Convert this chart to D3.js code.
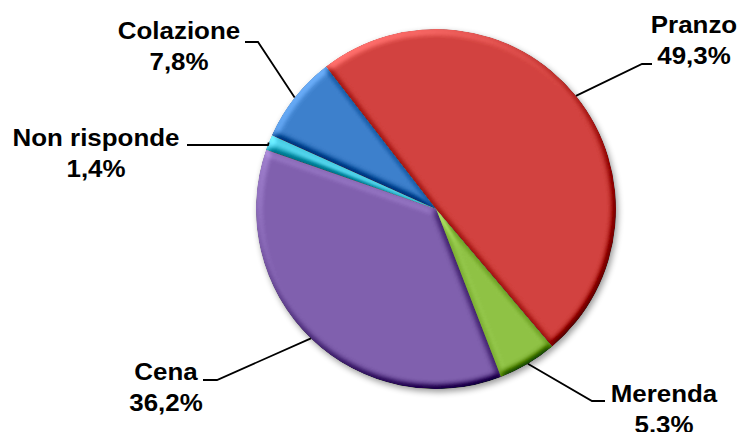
<!DOCTYPE html>
<html>
<head>
<meta charset="utf-8">
<script src="https://cdn.jsdelivr.net/npm/d3@7"></script>
<style>
  html, body { margin: 0; padding: 0; background: #fff; }
  svg { display: block; }
</style>
</head>
<body>
<div id="chart"></div>
<script>
// ---- data ----
const categories = ["Pranzo", "Merenda", "Cena", "Non risponde", "Colazione"];
const values = [49.3, 5.3, 36.2, 1.4, 7.8];
const valueLabels = ["49,3%", "5.3%", "36,2%", "1,4%", "7,8%"];

// ---- styles / layout ----
const colors = ["#D2423F", "#8FC245", "#8060AE", "#43C6DE", "#3D80CC"];
const W = 742, H = 432;
const cx = 436, cy = 209, R = 180;
const startDeg = -37.7;
const labelLayout = [
  { x: 694, y: 33, elbow: [642, 64], end: [652, 64] },
  { x: 664, y: 402, elbow: [592, 401], end: [605, 401] },
  { x: 166, y: 380, elbow: [217, 380], end: [203, 380] },
  { x: 96, y: 146, elbow: [268, 145], end: [187, 145] },
  { x: 179, y: 39, elbow: [258, 42], end: [245, 42] }
];
const lineGap = 31;

const svg = d3.select("#chart").append("svg")
  .attr("width", W).attr("height", H)
  .attr("viewBox", `0 0 ${W} ${H}`);

svg.append("rect").attr("width", W).attr("height", H).attr("fill", "#fff");

const defs = svg.append("defs");

// drop shadow for the whole pie
const sh = defs.append("filter").attr("id", "shadow")
  .attr("x", "-10%").attr("y", "-10%").attr("width", "125%").attr("height", "125%");
sh.append("feGaussianBlur").attr("in", "SourceAlpha").attr("stdDeviation", 3).attr("result", "b");
sh.append("feOffset").attr("in", "b").attr("dx", 2).attr("dy", 3).attr("result", "o");
sh.append("feComponentTransfer").attr("in", "o").attr("result", "oa")
  .append("feFuncA").attr("type", "linear").attr("slope", 0.4);
const shm = sh.append("feMerge");
shm.append("feMergeNode").attr("in", "oa");
shm.append("feMergeNode").attr("in", "SourceGraphic");

// bevel for each slice
const elev = 50;
const flat = Math.sin(elev * Math.PI / 180);
const bv = defs.append("filter").attr("id", "bevel")
  .attr("x", "-5%").attr("y", "-5%").attr("width", "110%").attr("height", "110%")
  .attr("color-interpolation-filters", "sRGB");
bv.append("feGaussianBlur").attr("in", "SourceAlpha").attr("stdDeviation", 3.5).attr("result", "blur");
const dl = bv.append("feDiffuseLighting").attr("in", "blur")
  .attr("surfaceScale", 4).attr("diffuseConstant", 1).attr("lighting-color", "#fff").attr("result", "diff");
dl.append("feDistantLight").attr("azimuth", 235).attr("elevation", elev);
bv.append("feComposite").attr("in", "SourceGraphic").attr("in2", "diff")
  .attr("operator", "arithmetic").attr("k1", 0).attr("k2", 1).attr("k3", 0.75).attr("k4", -0.75 * flat)
  .attr("result", "lit");
bv.append("feComposite").attr("in", "lit").attr("in2", "SourceAlpha").attr("operator", "in");

const start = startDeg * Math.PI / 180;
const pie = d3.pie().sort(null).value(d => d)
  .startAngle(start).endAngle(start + 2 * Math.PI);
const arcs = pie(values);
const arc = d3.arc().innerRadius(0).outerRadius(R);

const pieG = svg.append("g").attr("filter", "url(#shadow)")
  .append("g").attr("transform", `translate(${cx},${cy})`);

pieG.selectAll("path.slice").data(arcs).enter().append("path")
  .attr("class", "slice")
  .attr("d", arc)
  .attr("fill", (d, i) => colors[i])
  .attr("filter", "url(#bevel)");

// leader lines
const lines = svg.append("g");
arcs.forEach((a, i) => {
  const mid = (a.startAngle + a.endAngle) / 2;
  const edge = [cx + R * Math.sin(mid), cy - R * Math.cos(mid)];
  const L = labelLayout[i];
  lines.append("path")
    .attr("d", d3.line()([edge, L.elbow, L.end]))
    .attr("fill", "none").attr("stroke", "#000").attr("stroke-width", 1.8);
});

// labels
const labels = svg.append("g")
  .attr("font-family", "'Liberation Sans', Arial, sans-serif")
  .attr("font-weight", "bold").attr("font-size", 24).attr("fill", "#000")
  .attr("text-anchor", "middle");
categories.forEach((c, i) => {
  const L = labelLayout[i];
  labels.append("text")
    .attr("transform", `translate(${L.x},${L.y}) scale(1.08,1)`)
    .text(c);
  labels.append("text")
    .attr("transform", `translate(${L.x},${L.y + lineGap}) scale(1.08,1)`)
    .text(valueLabels[i]);
});
</script>
</body>
</html>
